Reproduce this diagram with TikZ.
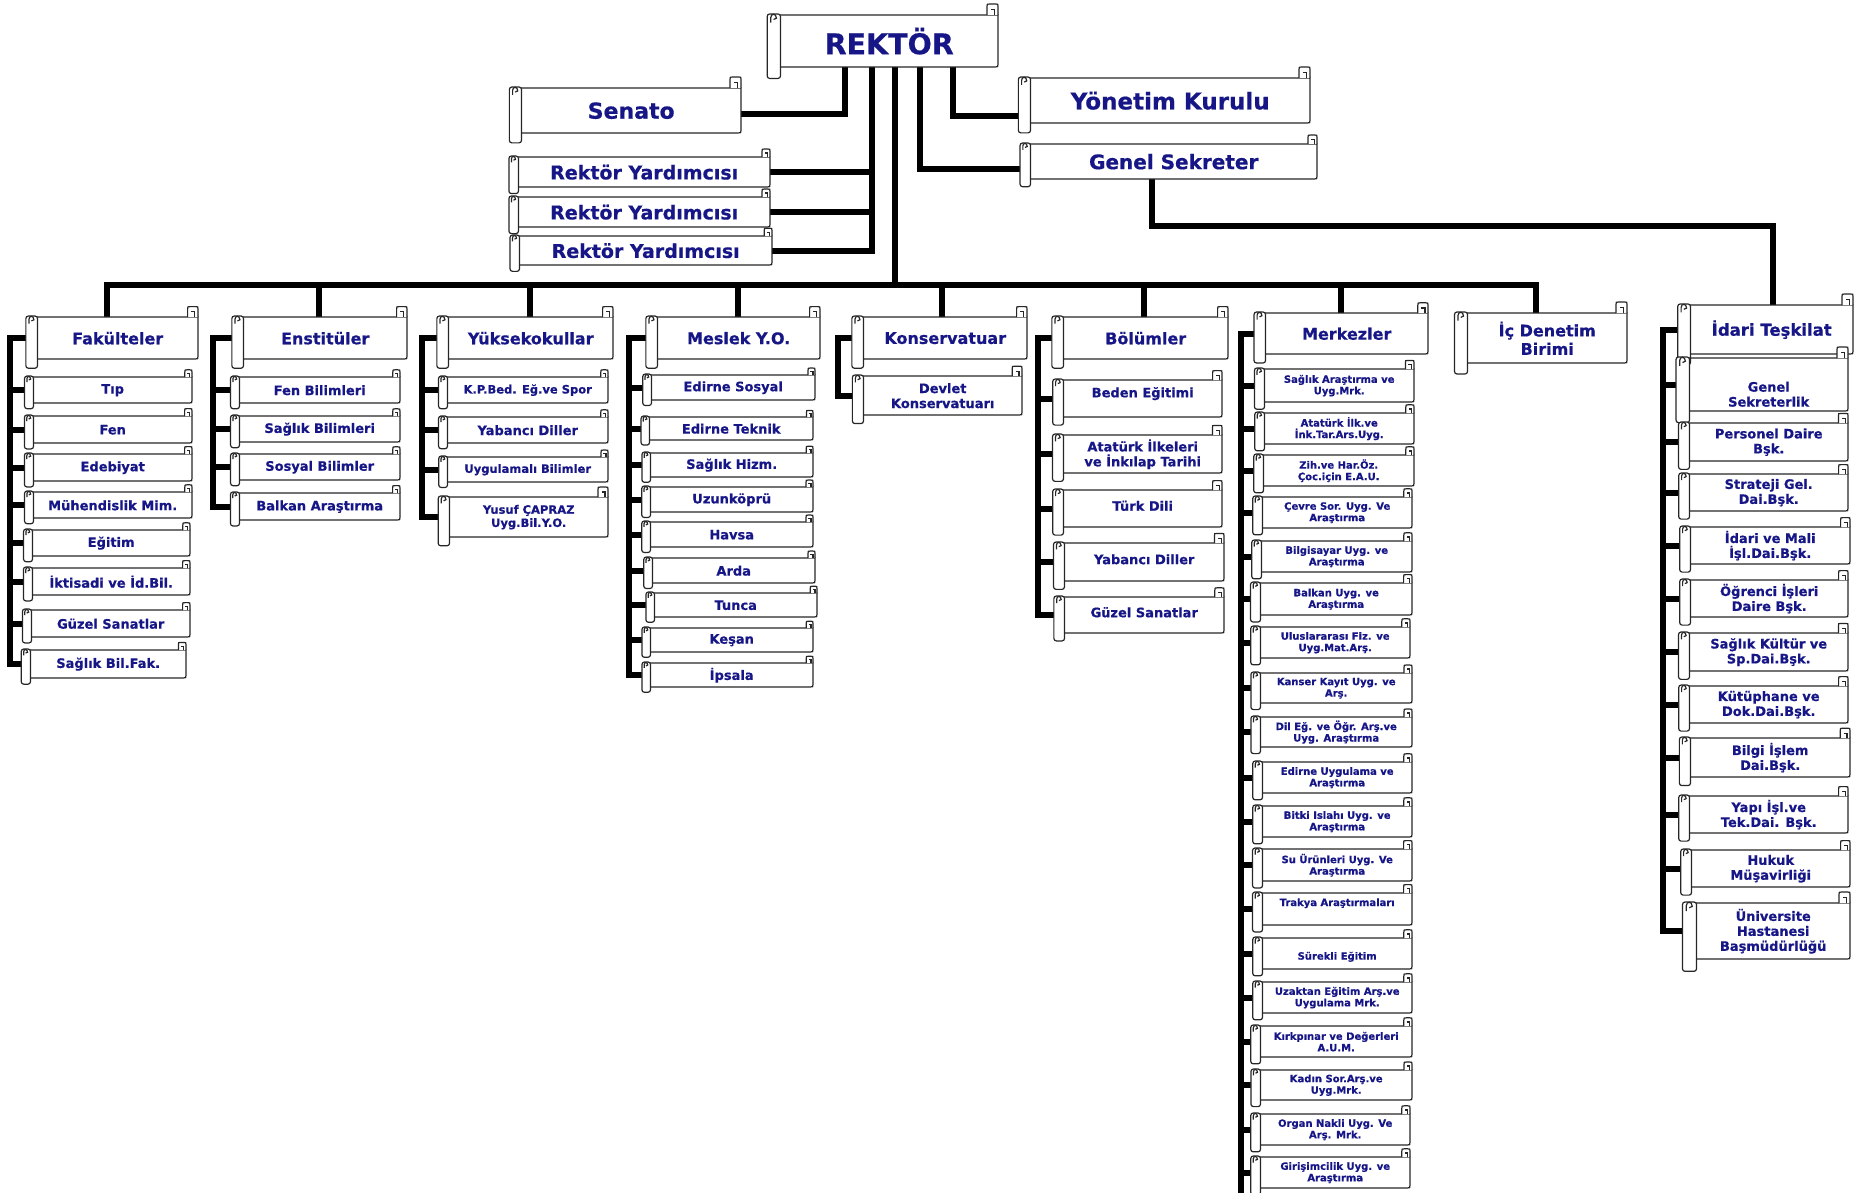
\documentclass[tikz,border=0pt]{standalone}
\usepackage{fontspec}
\setmainfont{DejaVu Sans}[BoldFeatures={FakeBold=0.6}]
\usetikzlibrary{backgrounds}
\definecolor{tc}{RGB}{22,22,135}
\newcommand\scroll[7][]{%
  \pgfmathsetmacro\shh{#6-#4}%
  \pgfmathsetmacro\sww{#5-#3}%
  \pgfmathsetmacro\srw{4+0.17*\shh}%
  \pgfmathsetmacro\sexd{0.22*\shh}%
  \pgfmathsetmacro\scs{min(0.2*\shh+2,11)}%
  \node[sb,minimum width=\sww pt,minimum height=\shh pt,#1] (#2) at (#3,#4) {#7};
  \draw[outl] (#3,#4) -- (#5,#4) -- (#5,#6-3) .. controls (#5,#6) .. (#5-3,#6) -- (#3,#6);
  \draw[outl,fill=white] (#5,#4) -- (#5,#4-\scs+2.5) .. controls (#5,#4-\scs) .. (#5-2.5,#4-\scs) -- (#5-\scs+2.5,#4-\scs) .. controls (#5-\scs,#4-\scs) .. (#5-\scs,#4-\scs+2.5) -- (#5-\scs,#4);
  \draw[outl] (#5-0.3*\scs,#4) -- (#5-0.3*\scs,#4-0.5*\scs) -- (#5-0.65*\scs,#4-0.5*\scs);
  \draw[outl,fill=white,rounded corners=2.5pt] (#3-\srw,#4-1) rectangle (#3+0.5,#6+\sexd);
  \draw[outl] (#3-0.72*\srw,#4+0.6*\srw) -- (#3-0.72*\srw,#4+0.2*\srw) .. controls (#3-0.72*\srw,#4-0.15*\srw) and (#3-0.28*\srw,#4-0.15*\srw) .. (#3-0.28*\srw,#4+0.25*\srw) -- (#3-0.5*\srw,#4+0.35*\srw);
}
\begin{document}
\begin{tikzpicture}[x=1pt,y=-1pt,
  sb/.style={anchor=north west,inner sep=0pt,align=center,text=tc},
  fs/.code={\pgfmathsetmacro\tmpbls{#1*1.15}\pgfkeysalso{font/.expanded={\noexpand\fontsize{#1}{\tmpbls}\noexpand\bfseries\noexpand\selectfont}}},
  outl/.style={draw=black!85,line width=1.2pt},
  conn/.style={draw=black,line width=6pt,line join=miter}]
\useasboundingbox (0,0) rectangle (1865,1193);
% top level
\scroll[fs=28.5]{rektor}{780}{15}{998}{67}{REKTÖR}
\scroll[fs=22]{senato}{521}{88}{741}{133}{Senato}
\scroll[fs=19]{ry1}{518}{157}{770}{187}{Rektör Yardımcısı}
\scroll[fs=19]{ry2}{518}{197}{770}{227}{Rektör Yardımcısı}
\scroll[fs=19]{ry3}{519}{236}{772}{265}{Rektör Yardımcısı}
\scroll[fs=23]{yonetim}{1030}{78}{1310}{123}{Yönetim Kurulu}
\scroll[fs=20]{genel}{1030}{144}{1317}{179}{Genel Sekreter}
% categories
\scroll[fs=16]{fak}{37}{317}{198}{359}{Fakülteler}
\scroll[fs=16]{enst}{243}{317}{407}{359}{Enstitüler}
\scroll[fs=16]{yuk}{448}{317}{613}{359}{Yüksekokullar}
\scroll[fs=16]{meslek}{657}{317}{820}{359}{Meslek Y.O.}
\scroll[fs=16]{kons}{863}{317}{1027}{359}{Konservatuar}
\scroll[fs=16]{bol}{1063}{317}{1228}{359}{Bölümler}
\scroll[fs=16]{merk}{1265}{313}{1428}{354}{Merkezler}
\scroll[fs=16]{icden}{1467}{313}{1627}{363}{İç Denetim\\Birimi}
\scroll[fs=16.5]{idari}{1690}{305}{1853}{354}{İdari Teşkilat}
% Fakülteler
\scroll[fs=13]{f1}{33}{377}{192}{403}{Tıp}
\scroll[fs=13]{f2}{33}{416}{192}{443}{Fen}
\scroll[fs=13]{f3}{33}{454}{192}{481}{Edebiyat}
\scroll[fs=13]{f4}{33}{492}{192}{518}{Mühendislik Mim.}
\scroll[fs=13]{f5}{32}{530}{190}{556}{Eğitim}
\scroll[fs=13]{f6}{32}{568}{190}{595}{İktisadi ve İd.Bil.}
\scroll[fs=13]{f7}{31}{610}{190}{637}{Güzel Sanatlar}
\scroll[fs=13]{f8}{30}{650}{186}{678}{Sağlık Bil.Fak.}
% Enstitüler
\scroll[fs=13]{e1}{239}{377}{400}{403}{Fen Bilimleri}
\scroll[fs=13]{e2}{239}{416}{400}{442}{Sağlık Bilimleri}
\scroll[fs=13]{e3}{239}{454}{400}{480}{Sosyal Bilimler}
\scroll[fs=13]{e4}{239}{493}{400}{520}{Balkan Araştırma}
% Yüksekokullar
\scroll[fs=11.5]{y1}{447}{377}{608}{403}{K.P.Bed. Eğ.ve Spor}
\scroll[fs=13]{y2}{447}{417}{608}{443}{Yabancı Diller}
\scroll[fs=11.5]{y3}{447}{457}{608}{482}{Uygulamalı Bilimler}
\scroll[fs=11.5]{y4}{449}{497}{608}{537}{Yusuf ÇAPRAZ\\Uyg.Bil.Y.O.}
% Meslek
\scroll[fs=13]{s1}{651}{375}{815}{400}{Edirne Sosyal}
\scroll[fs=13]{s2}{649}{417}{813}{440}{Edirne Teknik}
\scroll[fs=13]{s3}{650}{453}{813}{477}{Sağlık Hizm.}
\scroll[fs=13]{s4}{650}{487}{813}{512}{Uzunköprü}
\scroll[fs=13]{s5}{650}{522}{813}{547}{Havsa}
\scroll[fs=13]{s6}{652}{558}{815}{583}{Arda}
\scroll[fs=13]{s7}{654}{593}{817}{617}{Tunca}
\scroll[fs=13]{s8}{650}{628}{813}{652}{Keşan}
\scroll[fs=13]{s9}{650}{663}{813}{687}{İpsala}
% Konservatuar
\scroll[fs=13]{k1}{863}{376}{1022}{415}{Devlet\\Konservatuarı}
% Bölümler
\scroll[fs=13,text depth=13pt]{b1}{1063}{380}{1222}{417}{Beden Eğitimi}
\scroll[fs=13]{b2}{1063}{435}{1222}{473}{Atatürk İlkeleri\\ve İnkılap Tarihi}
\scroll[fs=13,text depth=6pt]{b3}{1063}{490}{1222}{527}{Türk Dili}
\scroll[fs=13,text depth=6pt]{b4}{1064}{543}{1224}{581}{Yabancı Diller}
\scroll[fs=13,text depth=6pt]{b5}{1064}{597}{1224}{633}{Güzel Sanatlar}
% Merkezler
\scroll[fs=10]{m1}{1264}{369}{1414}{402}{Sağlık Araştırma ve\\Uyg.Mrk.}
\scroll[fs=10]{m2}{1264}{413}{1414}{444}{Atatürk İlk.ve\\İnk.Tar.Ars.Uyg.}
\scroll[fs=10]{m3}{1263}{455}{1414}{486}{Zih.ve Har.Öz.\\Çoc.için E.A.U.}
\scroll[fs=10]{m4}{1262}{497}{1412}{528}{Çevre Sor. Uyg. Ve\\Araştırma}
\scroll[fs=10]{m5}{1261}{541}{1412}{572}{Bilgisayar Uyg. ve\\Araştırma}
\scroll[fs=10]{m6}{1260}{583}{1412}{615}{Balkan Uyg. ve\\Araştırma}
\scroll[fs=10]{m7}{1260}{627}{1410}{658}{Uluslararası Fiz. ve\\Uyg.Mat.Arş.}
\scroll[fs=10]{m8}{1260}{673}{1412}{703}{Kanser Kayıt Uyg. ve\\Arş.}
\scroll[fs=10]{m9}{1260}{717}{1412}{747}{Dil Eğ. ve Öğr. Arş.ve\\Uyg. Araştırma}
\scroll[fs=10]{m10}{1262}{762}{1412}{793}{Edirne Uygulama ve\\Araştırma}
\scroll[fs=10]{m11}{1262}{806}{1412}{837}{Bitki Islahı Uyg. ve\\Araştırma}
\scroll[fs=10]{m12}{1262}{849}{1412}{881}{Su Ürünleri Uyg. Ve\\Araştırma}
\scroll[fs=10,text depth=14pt]{m13}{1262}{893}{1412}{925}{Trakya Araştırmaları}
\scroll[fs=10,text height=14pt]{m14}{1262}{938}{1412}{969}{Sürekli Eğitim}
\scroll[fs=10]{m15}{1262}{982}{1412}{1013}{Uzaktan Eğitim Arş.ve\\Uygulama Mrk.}
\scroll[fs=10]{m16}{1260}{1026}{1412}{1057}{Kırkpınar ve Değerleri\\A.U.M.}
\scroll[fs=10]{m17}{1260}{1070}{1412}{1100}{Kadın Sor.Arş.ve\\Uyg.Mrk.}
\scroll[fs=10]{m18}{1260}{1114}{1410}{1145}{Organ Nakli Uyg. Ve\\Arş. Mrk.}
\scroll[fs=10]{m19}{1260}{1157}{1410}{1188}{Girişimcilik Uyg. ve\\Araştırma}
% İdari
\scroll[fs=13]{i1}{1689}{358}{1848}{411}{\rule{0pt}{29pt}Genel\\Sekreterlik}
\scroll[fs=13]{i2}{1689}{423}{1848}{461}{Personel Daire\\Bşk.}
\scroll[fs=13]{i3}{1689}{474}{1848}{511}{Strateji Gel.\\Dai.Bşk.}
\scroll[fs=13]{i4}{1690}{527}{1850}{564}{İdari ve Mali\\İşl.Dai.Bşk.}
\scroll[fs=13]{i5}{1690}{580}{1848}{617}{Öğrenci İşleri\\Daire Bşk.}
\scroll[fs=13]{i6}{1689}{633}{1848}{671}{Sağlık Kültür ve\\Sp.Dai.Bşk.}
\scroll[fs=13]{i7}{1689}{686}{1848}{723}{Kütüphane ve\\Dok.Dai.Bşk.}
\scroll[fs=13]{i8}{1690}{738}{1850}{777}{Bilgi İşlem\\Dai.Bşk.}
\scroll[fs=13]{i9}{1689}{796}{1848}{833}{Yapı İşl.ve\\Tek.Dai. Bşk.}
\scroll[fs=13]{i10}{1691}{850}{1850}{887}{Hukuk\\Müşavirliği}
\scroll[fs=13]{i11}{1696}{903}{1850}{959}{Üniversite\\Hastanesi\\Başmüdürlüğü}
% connectors
\begin{scope}[on background layer]
  \coordinate (sx) at (845,114);
  \coordinate (rx) at (872,0);
  \coordinate (tr) at (895,285);
  \coordinate (gk) at (920,169);
  \coordinate (yk) at (953,116);
  \coordinate (gs1) at (1152,226);
  \coordinate (gs2) at (1773,226);
  \draw[conn] (senato.east |- sx) -- (sx) -- (rektor.south -| sx);
  \draw[conn] (rektor.south -| rx) |- (ry3.east);
  \draw[conn] (ry1.east) -- (ry1.east -| rx);
  \draw[conn] (ry2.east) -- (ry2.east -| rx);
  \draw[conn] (rektor.south -| yk) -- (yk) -- (yonetim.west |- yk);
  \draw[conn] (rektor.south -| gk) -- (gk) -- (genel.west |- gk);
  \draw[conn] (genel.south -| gs1) -- (gs1) -- (gs2) -- (idari.north -| gs2);
  \draw[conn] (rektor.south -| tr) -- (tr);
  \coordinate (d1) at (107,285);
  \coordinate (d2) at (319,285);
  \coordinate (d3) at (530,285);
  \coordinate (d4) at (738,285);
  \coordinate (d5) at (942,285);
  \coordinate (d6) at (1144,285);
  \coordinate (d7) at (1341,285);
  \coordinate (d8) at (1536,285);
  \draw[conn] (fak.north -| d1) -- (d1) -- (d8) -- (icden.north -| d8);
  \foreach \c/\d in {enst/d2,yuk/d3,meslek/d4,kons/d5,bol/d6,merk/d7}
    \draw[conn] (\d) -- (\c.north -| \d);
  % child buses
  \coordinate (fb) at (10,0);
  \draw[conn] (fak.west) -| (fb |- f8.west) -- (f8.west);
  \foreach \i in {1,...,7} \draw[conn] (fb |- f\i.west) -- (f\i.west);
  \coordinate (eb) at (213,0);
  \draw[conn] (enst.west) -| (eb |- e4.west) -- (e4.west);
  \foreach \i in {1,...,3} \draw[conn] (eb |- e\i.west) -- (e\i.west);
  \coordinate (yb) at (422,0);
  \draw[conn] (yuk.west) -| (yb |- y4.west) -- (y4.west);
  \foreach \i in {1,...,3} \draw[conn] (yb |- y\i.west) -- (y\i.west);
  \coordinate (sb) at (629,0);
  \draw[conn] (meslek.west) -| (sb |- s9.west) -- (s9.west);
  \foreach \i in {1,...,8} \draw[conn] (sb |- s\i.west) -- (s\i.west);
  \coordinate (kb) at (838,0);
  \draw[conn] (kons.west) -| (kb |- k1.west) -- (k1.west);
  \coordinate (bb) at (1038,0);
  \draw[conn] (bol.west) -| (bb |- b5.west) -- (b5.west);
  \foreach \i in {1,...,4} \draw[conn] (bb |- b\i.west) -- (b\i.west);
  \coordinate (mb) at (1241,1200);
  \draw[conn] (merk.west) -| (mb);
  \foreach \i in {1,...,19} \draw[conn] (mb |- m\i.west) -- (m\i.west);
  \coordinate (ib) at (1663,0);
  \draw[conn] (idari.west) -| (ib |- i11.west) -- (i11.west);
  \foreach \i in {1,...,10} \draw[conn] (ib |- i\i.west) -- (i\i.west);
\end{scope}
\end{tikzpicture}
\end{document}
